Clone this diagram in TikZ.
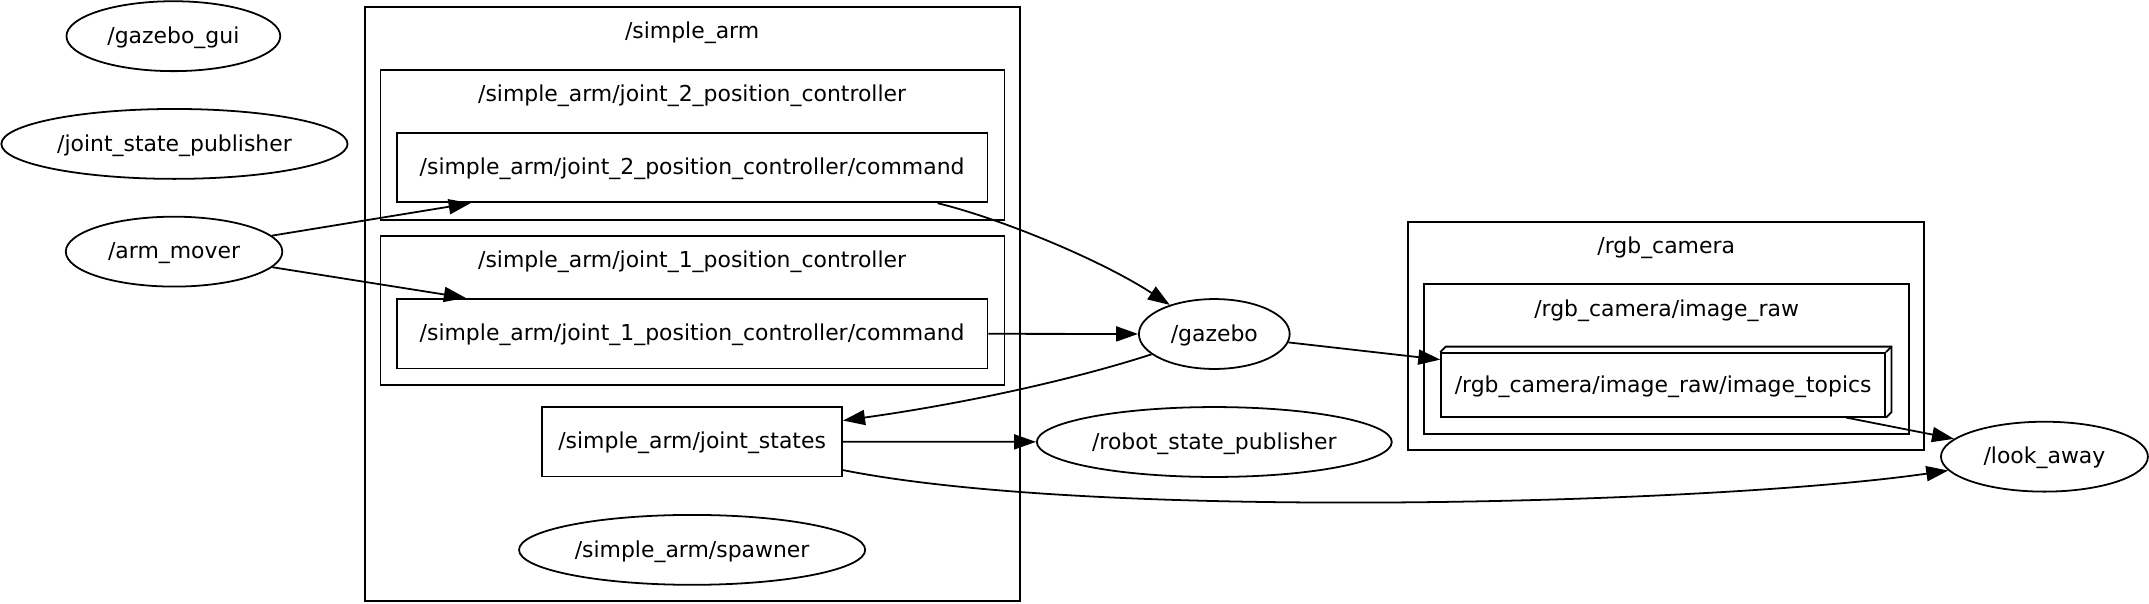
\documentclass[tikz,border=0pt]{standalone}
\usepackage{fontspec}
\setmainfont{DejaVu Sans}
\usepackage{tikz}
\usetikzlibrary{shapes.geometric,arrows.meta}
\tikzset{
	rosnode/.style = {draw, ellipse, inner sep=0pt, minimum height=51pt, text height=14pt, text depth=3.5pt},
	topic/.style   = {draw, rectangle, inner sep=0pt, minimum height=51pt, text height=14pt, text depth=3.5pt},
	cluster/.style = {draw, rectangle, inner sep=0pt}, % namespace
	title/.style   = {inner sep=0pt, text height=14pt, text depth=3.5pt} % namespace name
}

\begin{document}
\begin{tikzpicture}[x=1pt, y=-1pt, line width=1.3pt, >={Triangle[length=16pt,width=11pt]}, font=\fontsize{16}{19}\selectfont]
	\useasboundingbox (0,0) rectangle (1568,440);
	% namespaces
	\draw
	node at (505.2,221.8) [cluster, minimum width=478.3pt, minimum height=433.6pt] (simplearm) {}
	node at (505,23) [title] {/simple\_arm}
	node at (505.2,105.7) [cluster, minimum width=455.3pt, minimum height=109.7pt] (j2ctl) {}
	node at (505,68.7) [title] {/simple\_arm/joint\_2\_position\_controller}
	node at (505.2,226.6) [cluster, minimum width=455.3pt, minimum height=109.1pt] (j1ctl) {}
	node at (505,190) [title] {/simple\_arm/joint\_1\_position\_controller}
	node at (1215.8,245) [cluster, minimum width=376.5pt, minimum height=166.6pt] (rgbcam) {}
	node at (1215.7,179.5) [title] {/rgb\_camera}
	node at (1216,262) [cluster, minimum width=354pt, minimum height=109.5pt] (imgraw) {}
	node at (1216,225.5) [title] {/rgb\_camera/image\_raw};
	
	% nodes and topics
	\draw
	node at (126.5,26.4) [rosnode, minimum width=156pt] (gui) {/gazebo\_gui}
	node at (127.3,105) [rosnode, minimum width=252.6pt] (jsp) {/joint\_state\_publisher}
	node at (127,183.6) [rosnode, minimum width=158pt] (arm) {/arm\_mover}
	node at (505,122.2) [topic, minimum width=431pt, minimum height=50.8pt] (j2cmd) {/simple\_arm/joint\_2\_position\_controller/command}
	node at (505,243.4) [topic, minimum width=431pt, minimum height=50.8pt] (j1cmd) {/simple\_arm/joint\_1\_position\_controller/command}
	node at (505,322.2) [topic, minimum width=219pt] (states) {/simple\_arm/joint\_states}
	node at (505,401.2) [rosnode, minimum width=252.6pt] (spawner) {/simple\_arm/spawner}
	node at (886,243.7) [rosnode, minimum width=110pt] (gazebo) {/gazebo}
	node at (886,322.5) [rosnode, minimum width=259pt] (rsp) {/robot\_state\_publisher}
	node at (1213.5,280.8) [topic, minimum width=324pt, minimum height=46.5pt] (topics) {/rgb\_camera/image\_raw/image\_topics}
	node at (1491.7,333.2) [rosnode, minimum width=151pt] (look) {/look\_away};
	\draw (topics.north west) -- ++(4,-4) -| ([shift={(4,-4)}]topics.south east) -- (topics.south east);
	\draw (topics.north east) -- ++(4,-4);
	
	% connections
	\draw[->] (arm) -- ([xshift=54.5pt]j2cmd.south west);
	\draw[->] (arm) -- ([xshift=51pt]j1cmd.north west);
	\draw[->] ([xshift=-37pt]j2cmd.south east) .. controls (733,160.3) and (805,190.7) .. (gazebo);
	\draw[->] (j1cmd) -- (gazebo);
	\draw[->] (gazebo) .. controls (780,278) and (700,295) .. (states);
	\draw[->] (gazebo) -- (topics);
	\draw[->] (states) -- (rsp);
	\draw[->] ([yshift=-20.8pt]states.east) .. controls (800,380) and (1250,368) .. (look);
	\draw[->] ([xshift=-29pt]topics.south east) -- (look);
\end{tikzpicture}
\end{document}
